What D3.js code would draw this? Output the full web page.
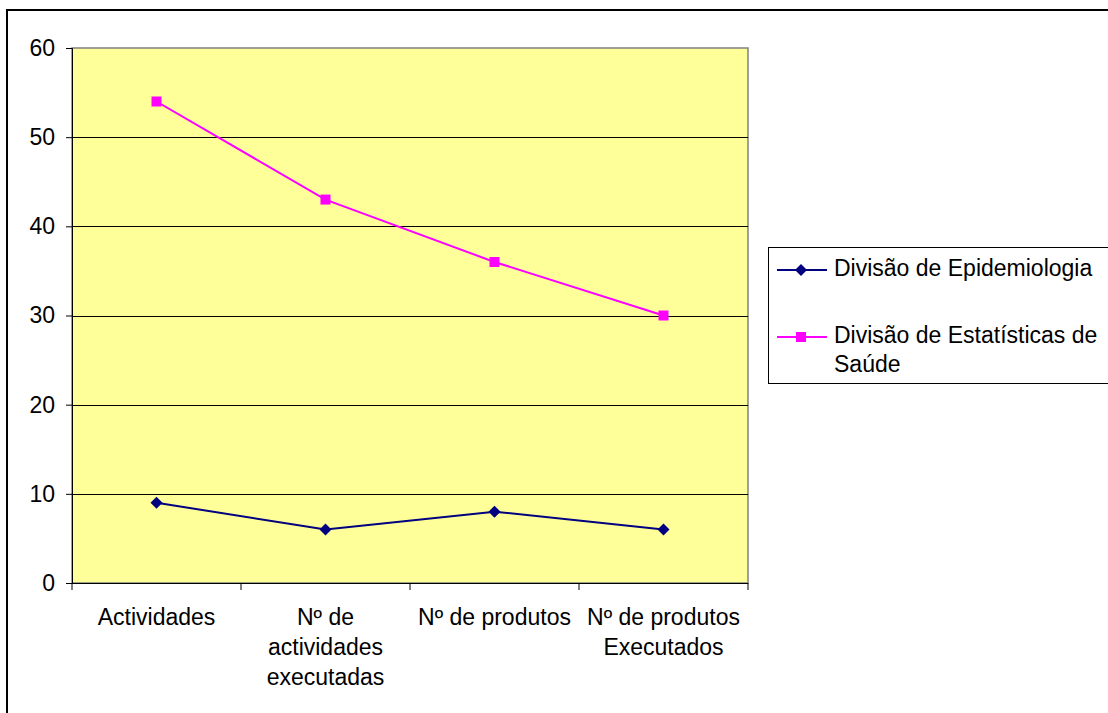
<!DOCTYPE html>
<html>
<head>
<meta charset="utf-8">
<script src="https://cdn.jsdelivr.net/npm/d3@7/dist/d3.min.js"></script>
<style>
  html, body { margin: 0; padding: 0; background: #fff; }
  svg { display: block; font-family: "Liberation Sans", Arial, sans-serif; }
</style>
</head>
<body>
<svg id="chart" width="1108" height="713"></svg>
<script>
// Categories (multi-line labels) and series
const categories = [
  ["Actividades"],
  ["Nº de", "actividades", "executadas"],
  ["Nº de produtos"],
  ["Nº de produtos", "Executados"]
];
const epidemiologia = [9, 6, 8, 6];
const estatisticas = [54, 43, 36, 30];
const seriesNames = ["Divisão de Epidemiologia", "Divisão de Estatísticas de Saúde"];
const yTicks = [0, 10, 20, 30, 40, 50, 60];

const svg = d3.select("#chart");
const plot = { left: 72, right: 748, top: 48, bottom: 583 };
const FONT = 23;

// Outer chart frame
svg.append("rect")
  .attr("x", 7).attr("y", 10)
  .attr("width", 1200).attr("height", 800)
  .attr("fill", "none").attr("stroke", "#000").attr("stroke-width", 2);

const x = d3.scaleBand()
  .domain(d3.range(categories.length))
  .range([plot.left, plot.right])
  .paddingInner(0).paddingOuter(0);

const y = d3.scaleLinear().domain([0, 60]).range([plot.bottom, plot.top]);

// Plot area background
svg.append("rect")
  .attr("x", plot.left).attr("y", plot.top)
  .attr("width", plot.right - plot.left).attr("height", plot.bottom - plot.top)
  .attr("fill", "#FFFF99").attr("stroke", "#808080").attr("stroke-width", 1.5);

// Gridlines
svg.append("g").selectAll("line")
  .data(yTicks.filter(d => d > 0 && d < 60))
  .join("line")
  .attr("x1", plot.left).attr("x2", plot.right)
  .attr("y1", d => Math.round(y(d)) + 0.5).attr("y2", d => Math.round(y(d)) + 0.5)
  .attr("stroke", "#000").attr("stroke-width", 1);

// Y axis
const yAxis = d3.axisLeft(y).tickValues(yTicks).tickSize(6).tickPadding(11).tickFormat(d3.format("d"));
const gy = svg.append("g").attr("transform", `translate(${plot.left},0)`).call(yAxis);
gy.select(".domain").attr("stroke", "#000");
gy.selectAll(".tick line").attr("stroke", "#000");
gy.selectAll(".tick text").attr("font-size", FONT).attr("fill", "#000")
  .attr("font-family", "Liberation Sans, Arial, sans-serif");

// X axis: line with ticks at category boundaries
const gx = svg.append("g");
gx.append("line")
  .attr("x1", plot.left).attr("x2", plot.right)
  .attr("y1", plot.bottom + 0.5).attr("y2", plot.bottom + 0.5)
  .attr("stroke", "#000");
const boundaries = d3.range(categories.length + 1).map(i => plot.left + i * x.bandwidth());
gx.selectAll("line.tk").data(boundaries).join("line").attr("class", "tk")
  .attr("x1", d => d).attr("x2", d => d)
  .attr("y1", plot.bottom).attr("y2", plot.bottom + 7)
  .attr("stroke", "#000");

// Category labels
const labels = gx.selectAll("text.cat").data(categories).join("text").attr("class", "cat")
  .attr("text-anchor", "middle").attr("font-size", FONT).attr("fill", "#000");
labels.each(function(lines, i) {
  const t = d3.select(this);
  lines.forEach((ln, j) => {
    t.append("tspan")
      .attr("x", x(i) + x.bandwidth() / 2)
      .attr("y", 625 + j * 30)
      .text(ln);
  });
});

// Lines and markers
const line = d3.line().x((d, i) => x(i) + x.bandwidth() / 2).y(d => y(d));

svg.append("path").datum(epidemiologia)
  .attr("d", line).attr("fill", "none").attr("stroke", "#000080").attr("stroke-width", 2);
svg.append("path").datum(estatisticas)
  .attr("d", line).attr("fill", "none").attr("stroke", "#FF00FF").attr("stroke-width", 2);

const diamondPath = "M0,-6L6,0L0,6L-6,0Z";
svg.append("g").selectAll("path").data(epidemiologia).join("path")
  .attr("d", diamondPath)
  .attr("transform", (d, i) => `translate(${x(i) + x.bandwidth() / 2},${y(d)})`)
  .attr("fill", "#000080");

svg.append("g").selectAll("rect").data(estatisticas).join("rect")
  .attr("x", (d, i) => x(i) + x.bandwidth() / 2 - 5)
  .attr("y", d => y(d) - 5)
  .attr("width", 10).attr("height", 10)
  .attr("fill", "#FF00FF");

// Legend
const lg = svg.append("g");
lg.append("rect")
  .attr("x", 768.5).attr("y", 247.5).attr("width", 400).attr("height", 136)
  .attr("fill", "#fff").attr("stroke", "#000").attr("stroke-width", 1);

const legendRows = [
  { color: "#000080", marker: "diamond", y: 270, base: 276, lines: ["Divisão de Epidemiologia"] },
  { color: "#FF00FF", marker: "square", y: 337, base: 343, lines: ["Divisão de Estatísticas de", "Saúde"] }
];
legendRows.forEach(r => {
  lg.append("line").attr("x1", 777).attr("x2", 827).attr("y1", r.y).attr("y2", r.y)
    .attr("stroke", r.color).attr("stroke-width", 2);
  if (r.marker === "diamond") {
    lg.append("path").attr("d", diamondPath).attr("transform", `translate(801,${r.y})`).attr("fill", r.color);
  } else {
    lg.append("rect").attr("x", 796).attr("y", r.y - 5).attr("width", 10).attr("height", 10).attr("fill", r.color);
  }
  const t = lg.append("text").attr("font-size", FONT).attr("fill", "#000");
  r.lines.forEach((ln, j) => {
    t.append("tspan").attr("x", 834).attr("y", r.base + j * 29).text(ln);
  });
});
</script>
</body>
</html>
